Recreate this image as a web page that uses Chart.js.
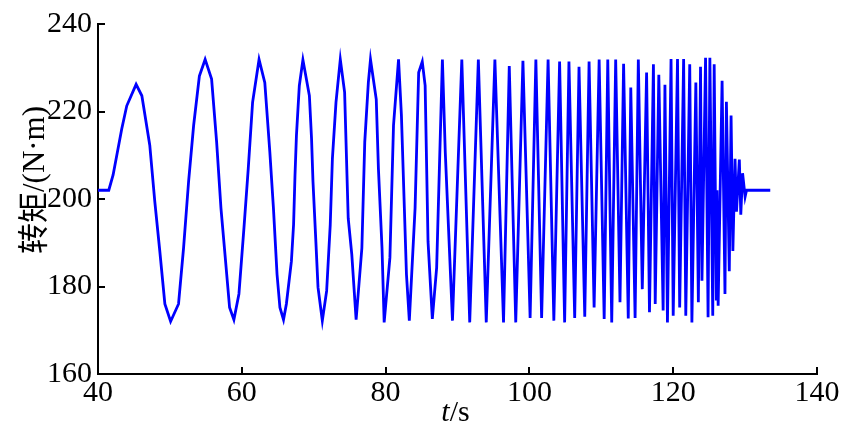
<!DOCTYPE html>
<html>
<head>
<meta charset="utf-8">
<script src="https://cdn.jsdelivr.net/npm/chart.js@4"></script>
<style>
html, body { margin: 0; padding: 0; background: #fff; }
</style>
</head>
<body>
<canvas id="torque-chart" width="850" height="434"></canvas>
<script>
'use strict';

// Time (s) of each sample.
const timeS = [
    40.0, 41.5, 42.1, 43.3, 44.0, 45.3, 46.1, 47.2, 47.9, 48.6, 49.3, 50.1,
    51.2, 51.9, 52.6, 53.3, 54.1, 54.9, 55.8, 56.5, 57.1, 57.7, 58.3, 58.9,
    59.6, 60.3, 60.9, 61.5, 62.4, 63.2, 63.9, 64.4, 64.9, 65.3, 65.8,
    66.2, 66.9, 67.2, 67.4, 67.6, 68.0, 68.5, 69.4, 69.7, 69.9, 70.3, 70.6, 71.2,
    71.8, 72.3, 72.6, 73.1, 73.7, 74.3, 74.8, 75.3, 75.9,
    76.7, 77.1, 77.6, 77.9, 78.7, 79.0, 79.5, 79.8,
    80.6, 81.1, 81.8, 82.2, 82.9, 83.3, 84.1, 84.6, 85.1, 85.5, 85.9, 86.5,
    87.1, 87.9, 88.3, 89.3, 90.6, 91.7, 92.9, 94.0, 95.2, 96.4, 97.2, 98.1,
    99.1, 100.1, 100.9, 101.7, 102.6, 103.4, 104.2, 104.9, 105.5, 106.3,
    106.9, 107.7, 108.3, 109.0, 109.7, 110.4, 110.9, 111.45, 112.0, 112.6,
    113.1, 113.75, 114.1, 114.7, 115.15, 115.7, 116.3, 116.7, 117.25, 117.5,
    118.0, 118.6, 118.85, 119.2, 119.7, 120.0, 120.6, 120.9, 121.45, 121.75,
    122.3, 122.6, 123.15, 123.5, 123.8, 124.0, 124.5, 124.85, 125.1, 125.5,
    125.7, 126.0, 126.1, 126.25, 126.8, 127.2, 127.4, 127.8, 128.05, 128.3,
    128.6, 128.8, 129.2, 129.4, 129.65, 130.0, 130.2, 133.5,
];

// Torque (N·m) at each time above.
const torque = [
    202, 202, 205.5, 216, 221.3, 226.2, 223.6, 212.3, 199.4, 188, 176, 172,
    176, 188.8, 204, 216.8, 228.1, 231.9, 227.4, 213, 197.9, 186.6, 175.2, 172.4,
    178.3, 193.4, 207, 222.1, 231.9, 226.6, 210.7, 197.9, 182.8, 175.2, 172.4,
    176, 185.8, 194.1, 205.5, 214.5, 225.9, 231.8, 223.6, 213.8, 204, 190.3, 179.8, 172.2,
    179, 194.1, 209.2, 222.1, 231.9, 224.4, 195.6, 187.3, 172.4,
    188.8, 213, 226.6, 231.9, 222.8, 207, 188.8, 171.8,
    186.6, 216.8, 231.9, 219.1, 182.8, 172.2, 197.9, 228.9, 231.4, 225.9, 190.3, 172.6,
    184.3, 231.9, 210.7, 172.2, 231.9, 171.8, 231.9, 171.8, 231.9, 171.8, 230.4, 171.8,
    231.6, 172.8, 231.9, 172.8, 231.9, 172.2, 231.4, 171.8, 231.4, 172.8,
    230.2, 173.1, 231.4, 175.2, 231.9, 172.6, 231.9, 171.8, 231.9, 176.4,
    230.9, 172.7, 225.5, 172.8, 231.9, 179.4, 228.9, 174.1, 230.8, 176,
    228.4, 174.5, 226.1, 171.8, 232, 173.3, 232, 175.2, 232, 173.3,
    230.8, 171.8, 226.6, 176.4, 230.2, 181.3, 232.3, 173, 232.3, 173.3,
    230.8, 176.8, 202, 175.6, 227, 178.3, 222.2, 183.5, 219.1, 188.1,
    209.2, 197.1, 209, 196.4, 205.9, 200.5, 202, 202,
];

const xTicks = [40, 60, 80, 100, 120, 140];
const yTicks = [160, 180, 200, 220, 240];
const yTitle = '转矩/(N·m)';

const serif = '"Liberation Serif", "Times New Roman", serif';

/**
 * Inward tick marks and the two axis titles.
 */
const axisDecor = {
    id: 'axisDecor',
    afterDraw(chart) {
        const {ctx, chartArea: area, scales: {x, y}} = chart;
        ctx.save();
        ctx.strokeStyle = '#000';
        ctx.lineWidth = 2;
        ctx.beginPath();
        xTicks.forEach((v) => {
            const px = Math.round(x.getPixelForValue(v));
            ctx.moveTo(px, area.bottom);
            ctx.lineTo(px, area.bottom - 7);
        });
        yTicks.forEach((v) => {
            const py = Math.round(y.getPixelForValue(v));
            ctx.moveTo(area.left, py);
            ctx.lineTo(area.left + 7, py);
        });
        ctx.stroke();

        // x title: italic t, then "/s".
        ctx.fillStyle = '#000';
        ctx.textBaseline = 'alphabetic';
        ctx.textAlign = 'left';
        const italic = 'italic 30px ' + serif;
        const plain = '30px ' + serif;
        ctx.font = italic;
        const wT = ctx.measureText('t').width;
        ctx.font = plain;
        const wS = ctx.measureText('/s').width;
        const cx = (area.left + area.right) / 2 - 2;
        const startX = cx - (wT + wS) / 2;
        ctx.font = italic;
        ctx.fillText('t', startX, 421);
        ctx.font = plain;
        ctx.fillText('/s', startX + wT, 421);

        // y title, rotated.
        ctx.translate(36, 180);
        ctx.rotate(-Math.PI / 2);
        ctx.textAlign = 'center';
        ctx.textBaseline = 'middle';
        ctx.font = '31px ' + serif + ', "Noto Sans CJK SC"';
        ctx.fillText(yTitle, 0, 0);
        ctx.restore();
    },
};

const renderChart = (canvasId) => {
    const points = timeS.map((t, i) => ({x: t, y: torque[i]}));
    const tickFont = {family: serif, size: 30};

    return new Chart(document.getElementById(canvasId), {
        type: 'line',
        data: {
            datasets: [{
                data: points,
                borderColor: '#0000ff',
                borderWidth: 2.8,
                pointRadius: 0,
                tension: 0,
                fill: false,
            }],
        },
        options: {
            responsive: false,
            animation: false,
            layout: {padding: {top: 21, right: 33, left: 0, bottom: 0}},
            plugins: {
                legend: {display: false},
                tooltip: {enabled: false},
            },
            scales: {
                x: {
                    type: 'linear',
                    min: 40,
                    max: 140,
                    afterBuildTicks: (s) => { s.ticks = xTicks.map((v) => ({value: v})); },
                    afterFit: (s) => { s.height = 60; },
                    grid: {display: false, drawTicks: false},
                    border: {display: true, color: '#000', width: 2},
                    ticks: {color: '#000', font: tickFont, padding: 1, maxRotation: 0},
                },
                y: {
                    min: 160,
                    max: 240,
                    afterBuildTicks: (s) => { s.ticks = yTicks.map((v) => ({value: v})); },
                    afterFit: (s) => { s.width = 98; },
                    grid: {display: false, drawTicks: false},
                    border: {display: true, color: '#000', width: 2},
                    ticks: {color: '#000', font: tickFont, padding: 6},
                },
            },
        },
        plugins: [axisDecor],
    });
};

renderChart('torque-chart');
</script>
</body>
</html>
